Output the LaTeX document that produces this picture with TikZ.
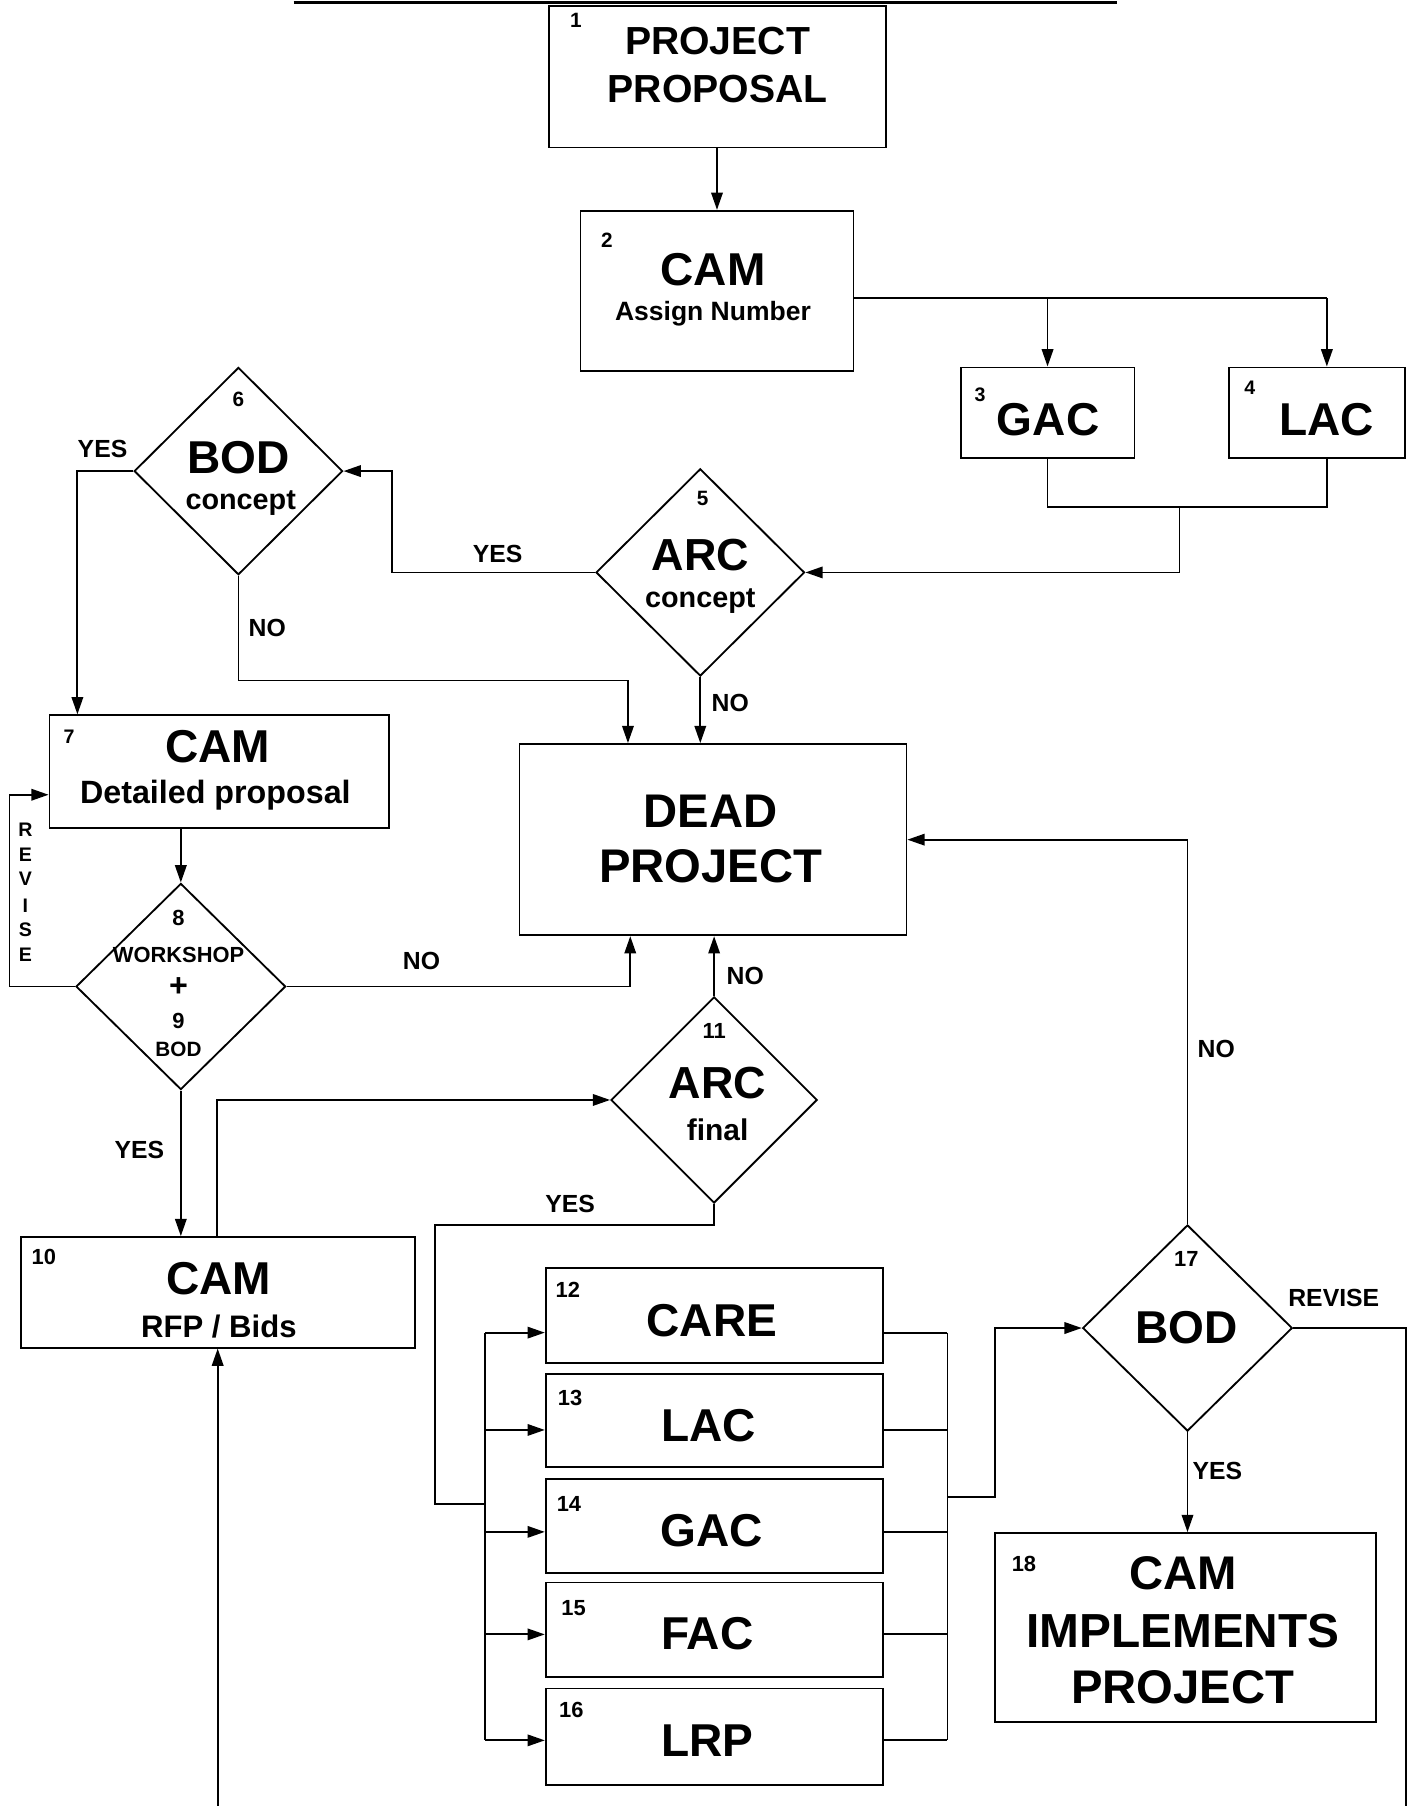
\documentclass[tikz,border=0pt]{standalone}
\usepackage{fontspec}
\setmainfont{Liberation Sans}
\usetikzlibrary{shapes.geometric,arrows.meta,calc}
\begin{document}
\begin{tikzpicture}[x=1pt,y=-1pt,line width=1.6pt,
  box/.style={draw,rectangle,inner sep=0pt},
  dia/.style={draw,diamond,inner sep=0pt,minimum width=181pt,minimum height=180pt},
  arr/.style={-{Triangle[length=15pt,width=10pt]}},
  txt/.style={inner sep=0pt,font=\bfseries\fontsize{#1}{#1}\selectfont},
  lbl/.style={inner sep=0pt,font=\bfseries\fontsize{21.5}{21.5}\selectfont}]
\fill[white] (0,0) rectangle (1224,1568);
\useasboundingbox (0,0) rectangle (1224,1568);
% header rule
\coordinate (tl1) at (255,2); \coordinate (tl2) at (970,2);
\draw[line width=3pt] (tl1) -- (tl2);
% boxes
\node[box,minimum width=292pt,minimum height=123pt] (b1) at (623,66.5) {};
\node[box,minimum width=237pt,minimum height=139pt] (b2) at (622.5,252.5) {};
\node[box,minimum width=151pt,minimum height=79pt] (b3) at (909.5,358.5) {};
\node[box,minimum width=153pt,minimum height=79pt] (b4) at (1143.5,358.5) {};
\node[dia] (d5) at (608,497) {};
\node[dia] (d6) at (207,409) {};
\node[box,minimum width=295pt,minimum height=98pt] (b7) at (190.5,670) {};
\node[box,minimum width=336pt,minimum height=166pt] (dead) at (619,729) {};
\node[dia,minimum width=182pt,minimum height=179pt] (d8) at (157,856.5) {};
\node[box,minimum width=342pt,minimum height=96pt] (b10) at (189,1122) {};
\node[dia,minimum width=179pt,minimum height=179pt] (d11) at (620,955) {};
\node[box,minimum width=293pt,minimum height=82pt] (b12) at (620.3,1142) {};
\node[box,minimum width=293pt,minimum height=81pt] (b13) at (620.3,1233.5) {};
\node[box,minimum width=293pt,minimum height=82pt] (b14) at (620.3,1325) {};
\node[box,minimum width=293pt,minimum height=82pt] (b15) at (620.3,1415) {};
\node[box,minimum width=293pt,minimum height=84pt] (b16) at (620.3,1508) {};
\node[dia,minimum width=182pt,minimum height=179pt] (d17) at (1031,1153) {};
\node[box,minimum width=331pt,minimum height=164pt] (b18) at (1029.5,1413) {};
% texts
\node[txt=18] (n1) at (500,18) {1};
\node[txt=34] (t1a) at (623,36) {PROJECT};
\node[txt=34] (t1b) at (623,77) {PROPOSAL};
\node[txt=18] (n2) at (527,209) {2};
\node[txt=40] (t2a) at (619,234) {CAM};
\node[txt=23] (t2b) at (619,272) {Assign Number};
\node[txt=17] (n3) at (851,343) {3};
\node[txt=40] (t3) at (910,364) {GAC};
\node[txt=17] (n4) at (1085,337) {4};
\node[txt=40] (t4) at (1152,364) {LAC};
\node[txt=18] (n5) at (610,433) {5};
\node[txt=39] (t5a) at (608,482) {ARC};
\node[txt=25] (t5b) at (608,522) {concept};
\node[txt=18] (n6) at (207,347) {6};
\node[txt=40] (t6a) at (207,397) {BOD};
\node[txt=25] (t6b) at (209,437) {concept};
\node[txt=17] (n7) at (60,640) {7};
\node[txt=40] (t7a) at (189,648) {CAM};
\node[txt=28] (t7b) at (187,690) {Detailed proposal};
\node[txt=41] (tda) at (617,704) {DEAD};
\node[txt=41] (tdb) at (617,752) {PROJECT};
\node[txt=19] (n8) at (155,797) {8};
\node[txt=19] (t8a) at (155,829) {WORKSHOP};
\node[txt=28] (t8b) at (155,857) {+};
\node[txt=19] (n9) at (155,886) {9};
\node[txt=18] (t9) at (155,911) {BOD};
\node[txt=17] (rv1) at (22,720) {R};
\node[txt=17] (rv2) at (22,742) {E};
\node[txt=17] (rv3) at (22,763) {V};
\node[txt=17] (rv4) at (22,786) {I};
\node[txt=17] (rv5) at (22,807) {S};
\node[txt=17] (rv6) at (22,829) {E};
\node[txt=19] (n10) at (38,1091) {10};
\node[txt=40] (t10a) at (190,1110) {CAM};
\node[txt=27] (t10b) at (190,1152) {RFP / Bids};
\node[txt=19] (n11) at (620,895) {11};
\node[txt=39] (t11a) at (623,940) {ARC};
\node[txt=26] (t11b) at (623,981) {final};
\node[txt=19] (n12) at (493,1120) {12};
\node[txt=40] (t12) at (618,1147) {CARE};
\node[txt=19] (n13) at (495,1214) {13};
\node[txt=40] (t13) at (615,1238) {LAC};
\node[txt=19] (n14) at (494,1306) {14};
\node[txt=40] (t14) at (618,1329) {GAC};
\node[txt=19] (n15) at (498,1396) {15};
\node[txt=40] (t15) at (614,1418) {FAC};
\node[txt=19] (n16) at (496,1485) {16};
\node[txt=40] (t16) at (614,1511) {LRP};
\node[txt=19] (n17) at (1030,1093) {17};
\node[txt=40] (t17) at (1030,1153) {BOD};
\node[txt=19] (n18) at (889,1358) {18};
\node[txt=41] (t18a) at (1027,1366) {CAM};
\node[txt=41.5] (t18b) at (1027,1416) {IMPLEMENTS};
\node[txt=41] (t18c) at (1027,1465) {PROJECT};
% labels
\node[lbl] (y6) at (89,390) {YES};
\node[lbl] (y5) at (432,481) {YES};
\node[lbl] (no6) at (232,545) {NO};
\node[lbl] (no5) at (634,610) {NO};
\node[lbl] (no8) at (366,834) {NO};
\node[lbl] (no11) at (647,847) {NO};
\node[lbl] (y8) at (121,998) {YES};
\node[lbl] (y11) at (495,1045) {YES};
\node[lbl] (no17) at (1056,911) {NO};
\node[lbl] (y17) at (1057,1277) {YES};
\node[lbl] (rv17) at (1158,1127) {REVISE};
% connectors
\draw[arr] (b1.south -| b2.north) -- (b2.north);
\coordinate (j2) at (1152,259);
\draw (j2 -| b2.east) -- (j2);
\draw[arr] (j2) -- (j2 |- b4.north);
\draw[arr] (j2 -| b3.north) -- (b3.north);
\coordinate (j34) at (1024,440);
\draw (b3.south) |- (j34) -| (j2 |- b4.south);
\draw[arr] (j34) |- (d5.east);
\draw[arr] (d5.west) -| ($(d6.east)+(42,0)$) -- (d6.east);
\draw[arr] (d6.west) -| ($(b7.north west)+(25,0)$);
\draw[arr] (d6.south) -- ++(0,91) -| ($(dead.north west)+(95,0)$);
\draw[arr] (d5.south) -- (d5.south |- dead.north);
\draw[arr] (b7.south -| d8.north) -- (d8.north);
\draw[arr] (d8.west) -- ++(-57,0) |- ($(b7.west)+(0,20)$);
\draw[arr] (d8.east) -| ($(dead.south west)+(97,0)$);
\draw[arr] (d8.south) -- (d8.south |- b10.north);
\draw[arr] ($(b10.north west)+(171,0)$) |- (d11.west);
\coordinate (bot) at (189,1568);
\draw[arr] (bot) -- (bot |- b10.south);
\draw[arr] (d11.north) -- (d11.north |- dead.south);
\coordinate (jl) at (378,1306);
\coordinate (busl) at (422,1306);
\draw (d11.south) -- ++(0,18) -| (jl) -- (busl);
\draw ($(b12.west)+(-51.6,15)$) -- ($(b16.west)+(-51.6,3)$);
\draw ($(b12.east)+(55,15)$) -- ($(b16.east)+(55,3)$);
\foreach \b/\o in {b12/15,b13/8,b14/5,b15/4,b16/3}{
  \draw[arr] ($(\b.west)+(-51.6,\o)$) -- ($(\b.west)+(0,\o)$);
  \draw ($(\b.east)+(0,\o)$) -- ($(\b.east)+(55,\o)$);
}
\coordinate (busr) at (822,1300);
\draw[arr] (busr) -- ++(42,0) |- (d17.west);
\draw[arr] (d17.north) |- (dead.east);
\draw[arr] (d17.south) -- (d17.south |- b18.north);
\coordinate (botr) at (1221,1568);
\draw (d17.east) -| (botr);
\end{tikzpicture}
\end{document}
